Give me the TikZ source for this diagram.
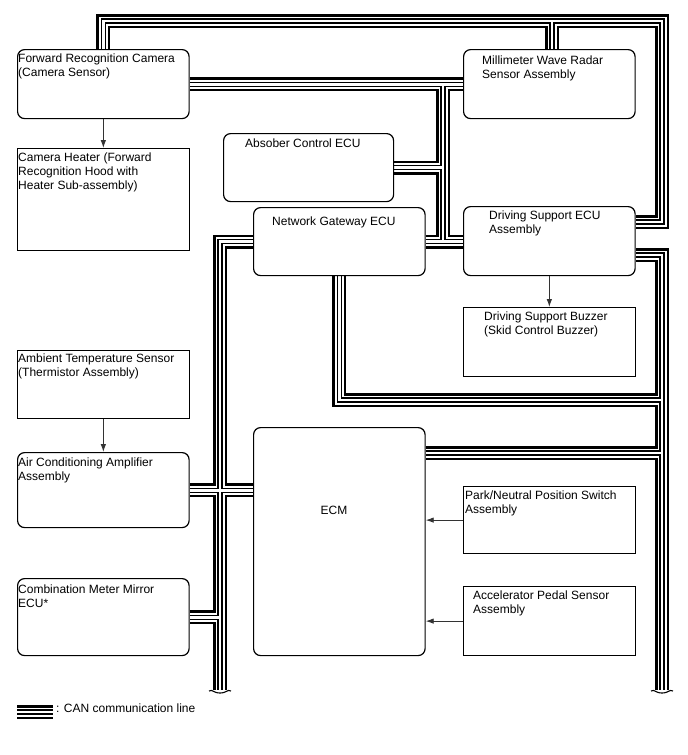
\documentclass[tikz,border=0pt]{standalone}
\usepackage{fontspec}
\setmainfont{Liberation Sans}
\usetikzlibrary{arrows.meta, calc, backgrounds}

\tikzset{
  rbox/.style={draw, line width=1.2pt, rounded corners=7pt, anchor=north west, inner sep=0pt, minimum width=171.5pt, minimum height=69pt},
  sbox/.style={rbox, sharp corners},
  lbl/.style={anchor=north west, align=left, inner sep=0pt, font=\fontsize{12}{14}\selectfont, execute at begin node=\strut},
  arr/.style={-{Latex[length=8pt, width=5.5pt]}, line width=0.9pt, draw=black!80},
  brk/.style={line width=1.1pt}
}

% every CAN line, drawn once per layer of the multi-line look
\newcommand{\canbuses}{%
  \draw[bus] (cam.north) |- (662,21) |- (dsecu.east |- 0,222);
  \draw[bus] (552,21) -- (radar.north -| 552,0);
  \draw[bus] (cam.east) -- (radar.west);
  \draw[bus] (443,83.5) -- (443,241);
  \draw[bus] (absorber.east) -- (absorber.east -| 443,0);
  \draw[bus] (gateway.east) -- (gateway.east -| dsecu.west);
  \draw[bus] (gateway.west) -| (lbot);
  \draw[bus] (acamp.east) -- (acamp.east -| ecm.west);
  \draw[bus] (combo.east) -- (combo.east -| 220,0);
  \draw[bus] (gateway.south) |- (662,400);
  \draw[bus] (dsecu.east |- 0,255) -| (rbot);
  \draw[bus] (ecm.east |- 0,453) -- (662,453);
  \draw[bus] (leg1) -- (leg2);
}

\begin{document}
\begin{tikzpicture}[x=1pt, y=-1pt]
  \useasboundingbox (0,0) rectangle (688,755);

  % units
  \node[rbox] (cam) at (17,49) {};
  \node[sbox, minimum height=102pt] (heater) at (17,148) {};
  \node[rbox] (radar) at (463,49) {};
  \node[rbox, minimum width=170pt, minimum height=68pt] (absorber) at (223,133) {};
  \node[rbox, minimum height=68pt] (gateway) at (253,207) {};
  \node[rbox] (dsecu) at (463,206) {};
  \node[sbox] (buzzer) at (463,307) {};
  \node[sbox, minimum height=68pt] (ambient) at (17,350) {};
  \node[rbox, minimum height=75pt] (acamp) at (17,452) {};
  \node[rbox, minimum height=77pt] (combo) at (17,578) {};
  \node[rbox, minimum height=228pt] (ecm) at (253,427) {};
  \node[sbox, minimum height=67pt] (park) at (463,486) {};
  \node[sbox] (accel) at (463,586) {};

  % texts (first baseline about 14pt below the box top)
  \node[lbl] (camtxt) at ($(cam.north west)+(1,4.2)$) {Forward Recognition Camera\\(Camera Sensor)};
  \node[lbl] (heatertxt) at ($(heater.north west)+(1,4.2)$) {Camera Heater (Forward\\Recognition Hood with\\Heater Sub-assembly)};
  \node[lbl] (radartxt) at ($(radar.north west)+(19,6.2)$) {Millimeter Wave Radar\\Sensor Assembly};
  \node[lbl] (absorbertxt) at ($(absorber.north west)+(22,4.2)$) {Absober Control ECU};
  \node[lbl] (gatewaytxt) at ($(gateway.north west)+(19,8.2)$) {Network Gateway ECU};
  \node[lbl] (dsecutxt) at ($(dsecu.north west)+(26,4.2)$) {Driving Support ECU\\Assembly};
  \node[lbl] (buzzertxt) at ($(buzzer.north west)+(21,4.7)$) {Driving Support Buzzer\\(Skid Control Buzzer)};
  \node[lbl] (ambienttxt) at ($(ambient.north west)+(1,3.2)$) {Ambient Temperature Sensor\\(Thermistor Assembly)};
  \node[lbl] (acamptxt) at ($(acamp.north west)+(1,5.2)$) {Air Conditioning Amplifier\\Assembly};
  \node[lbl] (combotxt) at ($(combo.north west)+(1,6.2)$) {Combination Meter Mirror\\ECU*};
  \node[font=\fontsize{12}{14}\selectfont, inner sep=0pt] (ecmtxt) at (334,510) {ECM};
  \node[lbl] (parktxt) at ($(park.north west)+(2,4.2)$) {Park/Neutral Position Switch\\Assembly};
  \node[lbl] (acceltxt) at ($(accel.north west)+(10,4.2)$) {Accelerator Pedal Sensor\\Assembly};

  % signal arrows
  \draw[arr] (cam) -- (heater);
  \draw[arr] (ambient) -- (acamp);
  \draw[arr] (dsecu) -- (buzzer);
  \draw[arr] (park) -- (park -| ecm.east);
  \draw[arr] (accel) -- (accel -| ecm.east);

  % CAN lines
  \coordinate (lbot) at (220,690);
  \coordinate (rbot) at (662,690);
  \coordinate (leg1) at (17,712);
  \coordinate (leg2) at (53,712);
  \begin{scope}[on background layer]
    \foreach \lw/\lc in {14/black, 9/white, 5.2/black, 2.8/white}{
      \begin{scope}[bus/.style={draw=\lc, line width=\lw pt}]
        \canbuses
      \end{scope}
    }
  \end{scope}
  \foreach \e in {lbot, rbot}{
    \draw[brk] ($(\e)+(-11,1)$) .. controls ($(\e)+(-7,-1)$) and ($(\e)+(-7,3)$) .. ($(\e)+(0,3)$)
      .. controls ($(\e)+(7,3)$) and ($(\e)+(7,-1)$) .. ($(\e)+(11,1)$);
  }
  \node[lbl, anchor=west, execute at begin node={}] (legtxt) at (56,710) {: CAN communication line};
\end{tikzpicture}
\end{document}
